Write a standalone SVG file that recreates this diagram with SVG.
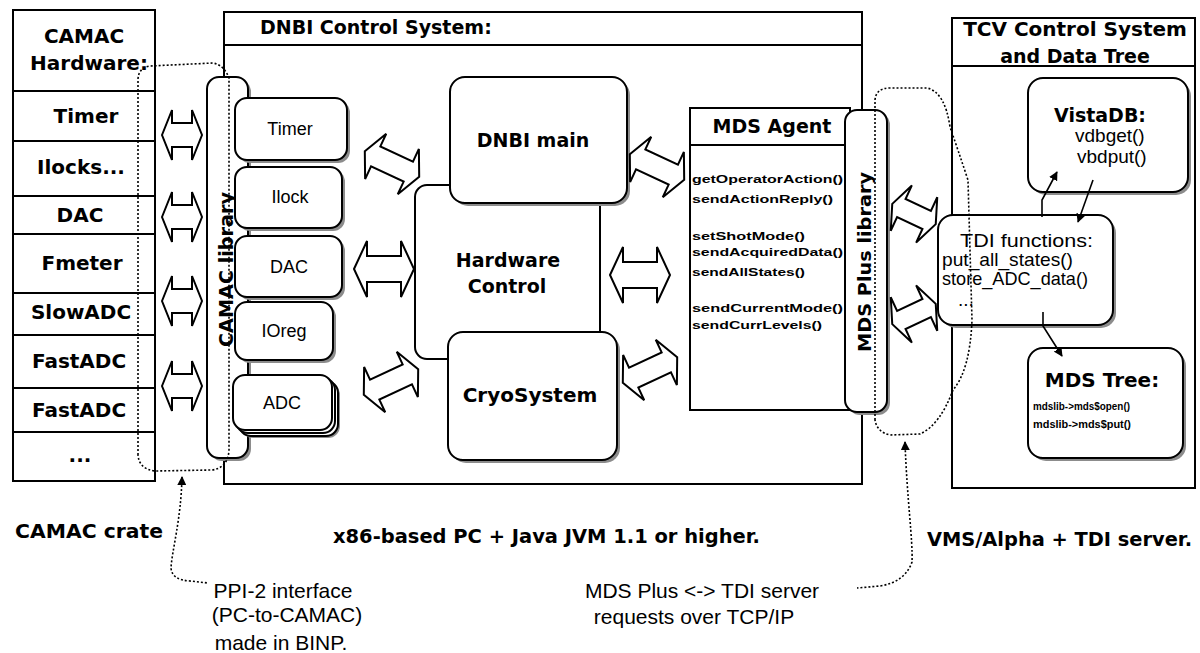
<svg xmlns="http://www.w3.org/2000/svg" width="1200" height="653" viewBox="0 0 1200 653">
<defs>
<style>
.ln{fill:none;stroke:#000;stroke-width:2}
.bx{fill:#fff;stroke:#000;stroke-width:2}
.sh{fill:#8c8c8c}
.ar{fill:#fff;stroke:#000;stroke-width:2;stroke-linejoin:miter}
.dt{fill:none;stroke:#000;stroke-width:1.6;stroke-dasharray:2 2}
.sl{fill:none;stroke:#000;stroke-width:1.6}
.b{font-family:"DejaVu Sans","Liberation Sans",sans-serif;font-weight:bold;fill:#000}
.r{font-family:"Liberation Sans",Arial,sans-serif;fill:#000}
.m{font-family:"Liberation Sans",Arial,sans-serif;font-weight:bold;font-size:11.5px;fill:#000}
</style>
<polygon id="dA" points="-20,0 -10,-25 -10,-12 10,-12 10,-25 20,0 10,25 10,12 -10,12 -10,25"/>
<polygon id="dB" points="-30,0 -18,-25 -18,-11 18,-11 18,-25 30,0 18,25 18,11 -18,11 -18,25"/>
<polygon id="dC" points="-24,0 -14,-25 -14,-10 14,-10 14,-25 24,0 14,25 14,10 -14,10 -14,25"/>
<polygon id="dD" points="-30,0 -17,-28 -17,-13 17,-13 17,-28 30,0 17,28 17,13 -17,13 -17,28"/>
<marker id="ah" viewBox="0 0 10 10" refX="9" refY="5" markerWidth="9" markerHeight="9" markerUnits="userSpaceOnUse" orient="auto-start-reverse">
<path d="M0,0 L10,5 L0,10 z" fill="#000"/>
</marker>
</defs>
<rect width="1200" height="653" fill="#fff"/>

<!-- CAMAC crate -->
<g id="camac-crate">
<rect class="bx" x="13" y="10" width="142" height="471"/>
<path class="ln" d="M13 91H155M13 141H155M13 196H155M13 234H155M13 293H155M13 335H155M13 388H155M13 432H155"/>
<text class="b" font-size="20" x="84" y="43" text-anchor="middle">CAMAC</text>
<text class="b" font-size="20" x="89" y="70" text-anchor="middle">Hardware:</text>
<text class="b" font-size="20" x="86" y="123" text-anchor="middle">Timer</text>
<text class="b" font-size="20" x="81" y="174" text-anchor="middle">Ilocks...</text>
<text class="b" font-size="20" x="80" y="222" text-anchor="middle">DAC</text>
<text class="b" font-size="20" x="82" y="270" text-anchor="middle">Fmeter</text>
<text class="b" font-size="20" x="81" y="319" text-anchor="middle">SlowADC</text>
<text class="b" font-size="20" x="79" y="368" text-anchor="middle">FastADC</text>
<text class="b" font-size="20" x="79" y="417" text-anchor="middle">FastADC</text>
<text class="b" font-size="20" x="80" y="462" text-anchor="middle">...</text>
</g>

<!-- DNBI Control System -->
<g id="dnbi-system">
<rect class="bx" x="224" y="12" width="638" height="472"/>
<path class="ln" d="M224 45H862"/>
<text class="b" font-size="19" x="260" y="34">DNBI Control System:</text>
</g>

<g id="hardware-control">
<rect class="bx" x="415" y="185" width="185" height="174" rx="12"/>
<text class="b" font-size="19" x="508" y="267" text-anchor="middle">Hardware</text>
<text class="b" font-size="19" x="507" y="293" text-anchor="middle">Control</text>
</g>

<g id="dnbi-main">
<rect class="sh" x="453" y="80" width="177" height="126" rx="15"/>
<rect class="bx" x="450" y="77" width="177" height="126" rx="15"/>
<text class="b" font-size="19" x="533" y="147" text-anchor="middle">DNBI main</text>
</g>

<g id="cryosystem">
<rect class="sh" x="451" y="335" width="169" height="128" rx="15"/>
<rect class="bx" x="448" y="332" width="169" height="128" rx="15"/>
<text class="b" font-size="20" x="530" y="402" text-anchor="middle">CryoSystem</text>
</g>

<g id="mds-agent">
<rect class="bx" x="690" y="108" width="160" height="302"/>
<path class="ln" d="M690 145H850"/>
<text class="b" font-size="19" x="772" y="133" text-anchor="middle">MDS Agent</text>
<text class="m" x="692" y="183" textLength="151" lengthAdjust="spacingAndGlyphs">getOperatorAction()</text>
<text class="m" x="692" y="203" textLength="141" lengthAdjust="spacingAndGlyphs">sendActionReply()</text>
<text class="m" x="692" y="240" textLength="113" lengthAdjust="spacingAndGlyphs">setShotMode()</text>
<text class="m" x="692" y="256" textLength="151" lengthAdjust="spacingAndGlyphs">sendAcquiredData()</text>
<text class="m" x="692" y="276" textLength="113" lengthAdjust="spacingAndGlyphs">sendAllStates()</text>
<text class="m" x="692" y="312" textLength="151" lengthAdjust="spacingAndGlyphs">sendCurrentMode()</text>
<text class="m" x="692" y="329" textLength="130" lengthAdjust="spacingAndGlyphs">sendCurrLevels()</text>
</g>

<g id="mds-plus-library">
<rect class="sh" x="848" y="113" width="42" height="302" rx="12"/>
<rect class="bx" x="845" y="110" width="42" height="302" rx="12"/>
<text class="b" font-size="18" transform="translate(871,352) rotate(-90)" textLength="180" lengthAdjust="spacingAndGlyphs">MDS Plus library</text>
</g>

<g id="camac-library">
<rect class="sh" x="210" y="80" width="41" height="381" rx="12"/>
<rect class="bx" x="207" y="77" width="41" height="381" rx="12"/>
<text class="b" font-size="20" transform="translate(233,347) rotate(-90)" textLength="155" lengthAdjust="spacingAndGlyphs">CAMAC library</text>
</g>

<g id="mod-timer">
<rect class="sh" x="238" y="101" width="112" height="62" rx="12"/>
<rect class="bx" x="235" y="98" width="112" height="62" rx="12"/>
<text class="r" font-size="18" x="290" y="135" text-anchor="middle">Timer</text>
</g>
<g id="mod-ilock">
<rect class="sh" x="238" y="170" width="107" height="61" rx="12"/>
<rect class="bx" x="235" y="167" width="107" height="61" rx="12"/>
<text class="r" font-size="18" x="290" y="203" text-anchor="middle">Ilock</text>
</g>
<g id="mod-dac">
<rect class="sh" x="238" y="239" width="107" height="61" rx="12"/>
<rect class="bx" x="235" y="236" width="107" height="61" rx="12"/>
<text class="r" font-size="18" x="289" y="273" text-anchor="middle">DAC</text>
</g>
<g id="mod-ioreg">
<rect class="sh" x="238" y="305" width="98" height="58" rx="12"/>
<rect class="bx" x="235" y="302" width="98" height="58" rx="12"/>
<text class="r" font-size="18" x="284" y="337" text-anchor="middle">IOreg</text>
</g>
<g id="mod-adc">
<rect class="sh" x="241" y="383" width="99" height="55" rx="12"/>
<rect class="bx" x="239" y="381" width="99" height="55" rx="12"/>
<rect class="bx" x="236" y="378" width="99" height="55" rx="12"/>
<rect class="bx" x="233" y="375" width="99" height="55" rx="12"/>
<text class="r" font-size="18" x="282" y="409" text-anchor="middle">ADC</text>
</g>

<!-- TCV -->
<g id="tcv-system">
<rect class="bx" x="952" y="18" width="243" height="470"/>
<path class="ln" d="M952 66H1195"/>
<text class="b" font-size="20" x="1075" y="36" text-anchor="middle">TCV Control System</text>
<text class="b" font-size="19" x="1075" y="63" text-anchor="middle">and Data Tree</text>
</g>

<g id="vistadb">
<rect class="sh" x="1031" y="81" width="160" height="114" rx="15"/>
<rect class="bx" x="1028" y="78" width="160" height="114" rx="15"/>
<text class="b" font-size="19" x="1100" y="122" text-anchor="middle">VistaDB:</text>
<text class="r" font-size="19" x="1075" y="142">vdbget()</text>
<text class="r" font-size="19" x="1077" y="163">vbdput()</text>
</g>

<g id="tdi-functions">
<rect class="sh" x="941" y="218" width="175" height="110" rx="15"/>
<rect class="bx" x="938" y="215" width="175" height="110" rx="15"/>
<text class="r" font-size="19" x="960" y="247" textLength="133" lengthAdjust="spacingAndGlyphs">TDI functions:</text>
<text class="r" font-size="19" x="942" y="266" textLength="131" lengthAdjust="spacingAndGlyphs">put_all_states()</text>
<text class="r" font-size="19" x="942" y="285" textLength="146" lengthAdjust="spacingAndGlyphs">store_ADC_data()</text>
<text class="r" font-size="19" x="958" y="306">...</text>
</g>

<g id="mds-tree">
<rect class="sh" x="1031" y="351" width="155" height="110" rx="15"/>
<rect class="bx" x="1028" y="348" width="155" height="110" rx="15"/>
<text class="b" font-size="20" x="1102" y="387" text-anchor="middle">MDS Tree:</text>
<text class="m" x="1033" y="410" textLength="97" lengthAdjust="spacingAndGlyphs">mdslib-&gt;mds$open()</text>
<text class="m" x="1033" y="428" textLength="98" lengthAdjust="spacingAndGlyphs">mdslib-&gt;mds$put()</text>
</g>

<!-- Labels -->
<g id="labels">
<text class="b" font-size="20" x="15" y="538" textLength="148" lengthAdjust="spacingAndGlyphs">CAMAC crate</text>
<text class="b" font-size="19" x="333" y="543" textLength="427" lengthAdjust="spacingAndGlyphs">x86-based PC + Java JVM 1.1 or higher.</text>
<text class="b" font-size="19" x="927" y="546" textLength="265" lengthAdjust="spacingAndGlyphs">VMS/Alpha + TDI server.</text>
<text class="r" font-size="21" x="283" y="598" text-anchor="middle">PPI-2 interface</text>
<text class="r" font-size="21" x="287" y="622" text-anchor="middle">(PC-to-CAMAC)</text>
<text class="r" font-size="21" x="281" y="650" text-anchor="middle">made in BINP.</text>
<text class="r" font-size="21" x="702" y="598" text-anchor="middle">MDS Plus &lt;-&gt; TDI server</text>
<text class="r" font-size="21" x="694" y="624" text-anchor="middle">requests over TCP/IP</text>
</g>

<!-- Connectors -->
<g id="connectors">
<use href="#dA" class="ar" transform="translate(182,135)"/>
<use href="#dA" class="ar" transform="translate(182,217)"/>
<use href="#dA" class="ar" transform="translate(182,301)"/>
<use href="#dA" class="ar" transform="translate(182,386)"/>
<use href="#dB" class="ar" transform="translate(392,164) rotate(25)"/>
<use href="#dD" class="ar" transform="translate(384,269)"/>
<use href="#dB" class="ar" transform="translate(391,382) rotate(-25)"/>
<use href="#dB" class="ar" transform="translate(657,167) rotate(25)"/>
<use href="#dD" class="ar" transform="translate(640,275)"/>
<use href="#dB" class="ar" transform="translate(650,370) rotate(-25)"/>
<use href="#dC" class="ar" transform="translate(914,214) rotate(25)"/>
<use href="#dC" class="ar" transform="translate(914,314) rotate(-25)"/>
<path class="dt" d="M138 455 L138 80 Q138 68 150 66 L213 63 Q224 65 229 78 L229 450 Q228 468 212 470 L155 471 Q139 469 138 455 Z"/>
<path class="dt" d="M182 477 C181 520 172 550 171 568 Q172 580 190 581 L208 583" marker-start="url(#ah)"/>
<path class="dt" d="M875 420 L875 100 Q876 88 890 88 L927 88 Q945 92 950 127 Q958 150 968 180 L972 320 Q970 370 953 390 Q940 425 920 434 L890 435 Q877 432 875 420 Z"/>
<path class="dt" d="M905 442 C907 500 913 540 912 562 Q905 582 880 586 L857 588" marker-start="url(#ah)"/>
<path class="sl" d="M1042 217 L1042 200 L1057 172" marker-end="url(#ah)"/>
<path class="sl" d="M1093 180 L1078 222" marker-end="url(#ah)"/>
<path class="sl" d="M1043 312 L1043 326 L1062 356" marker-end="url(#ah)"/>
</g>
</svg>
